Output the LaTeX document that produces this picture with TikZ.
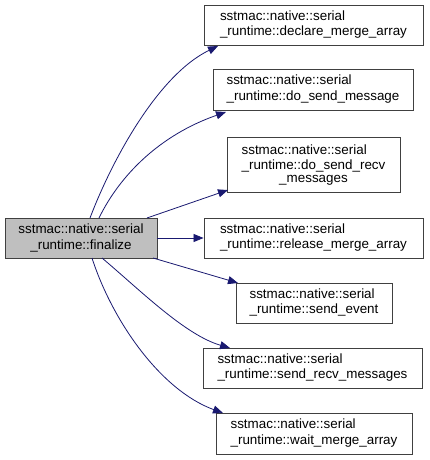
\documentclass[tikz,border=0pt]{standalone}
\usepackage{fontspec}
\setmainfont{Liberation Sans}
\usetikzlibrary{arrows.meta}
\definecolor{edgeblue}{HTML}{191970}
\definecolor{boxline}{HTML}{404040}
\begin{document}
\begin{tikzpicture}[x=1pt,y=-1pt,
  fn/.style={draw=boxline,line width=0.9pt,fill=white,inner sep=0pt,align=center,
    font=\fontsize{13.4}{15.5}\selectfont},
  cur/.style={fn,fill=black!25},
  edge/.style={draw=edgeblue,line width=0.8pt,-{Triangle[length=10pt,width=8pt]}}]
\useasboundingbox (0,0) rectangle (429,460);
\node[cur,minimum width=152,minimum height=40] (fin) at (81,238) {sstmac::native::serial\\\_runtime::finalize};
\node[fn,minimum width=219,minimum height=40] (dec) at (313.5,25) {\begin{tabular}{@{}l@{}}sstmac::native::serial\\\_runtime::declare\_merge\_array\end{tabular}};
\node[fn,minimum width=200,minimum height=41] (dsm) at (313,89.5) {\begin{tabular}{@{}l@{}}sstmac::native::serial\\\_runtime::do\_send\_message\end{tabular}};
\node[fn,minimum width=173,minimum height=55] (dsr) at (313.5,164.5) {\begin{tabular}{@{}l@{}}sstmac::native::serial\\\_runtime::do\_send\_recv\end{tabular}\\\_messages};
\node[fn,minimum width=219,minimum height=40] (rel) at (313.5,238) {\begin{tabular}{@{}l@{}}sstmac::native::serial\\\_runtime::release\_merge\_array\end{tabular}};
\node[fn,minimum width=156,minimum height=40] (sev) at (314,303) {\begin{tabular}{@{}l@{}}sstmac::native::serial\\\_runtime::send\_event\end{tabular}};
\node[fn,minimum width=219,minimum height=40] (srm) at (312.5,368) {\begin{tabular}{@{}l@{}}sstmac::native::serial\\\_runtime::send\_recv\_messages\end{tabular}};
\node[fn,minimum width=196,minimum height=41] (wma) at (314,433.5) {\begin{tabular}{@{}l@{}}sstmac::native::serial\\\_runtime::wait\_merge\_array\end{tabular}};
\coordinate (f1) at (90,218);
\coordinate (f2) at (99,218);
\coordinate (f3) at (147,218);
\coordinate (f4) at (153,258);
\coordinate (f5) at (102,258);
\coordinate (f6) at (92,258);
\coordinate (t1) at (218,46);
\coordinate (t2) at (226,112);
\coordinate (t3) at (228,190);
\coordinate (t4) at (238,283);
\coordinate (t5) at (230,348);
\coordinate (t6) at (223,413);
\draw[edge] (f1) .. controls (112,160) and (158,75) .. (t1);
\draw[edge] (f2) .. controls (120,175) and (160,135) .. (t2);
\draw[edge] (f3) -- (t3);
\draw[edge] (fin.east) -- (rel.west);
\draw[edge] (f4) -- (t4);
\draw[edge] (f5) .. controls (140,290) and (185,335) .. (t5);
\draw[edge] (f6) .. controls (112,320) and (160,390) .. (t6);
\end{tikzpicture}
\end{document}
